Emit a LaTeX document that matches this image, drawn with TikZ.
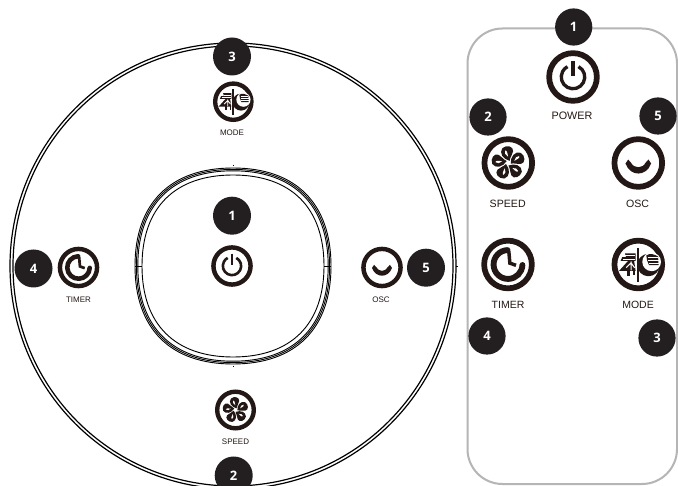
\documentclass[tikz,border=0pt]{standalone}
\usepackage{fontspec}
\setmainfont{Liberation Sans}
\newfontfamily\badgefont{Open Sans}
\definecolor{ink}{HTML}{231815}
\definecolor{badgeink}{HTML}{231F20}
\definecolor{shellgray}{HTML}{B5B5B5}
\tikzset{
  badge/.style={circle,fill=badgeink,draw=none,minimum size=2*#1 pt,inner sep=0pt,text=white,font=\badgefont\bfseries\fontsize{13}{13}\selectfont},
  lab/.style={text=ink,inner sep=0pt,font=\fontsize{#1}{#1}\selectfont},
  rim/.style={draw=black,line width=0.9pt},
}
% ring common to all icons; #1 x, #2 y, #3 outer radius
\newcommand{\iconring}[3]{\draw[ink,line width=#3*0.215pt] (#1,#2) circle[radius=#3*0.893pt];}
\newcommand{\powericon}[3]{\iconring{#1}{#2}{#3}
  \begin{scope}[shift={(#1,#2)},x=#3pt,y=#3pt,draw=ink,line width=#3*0.125pt]
    \draw (62:0.44) arc[start angle=62,end angle=-242,radius=0.44];
    \draw (0,0.6) -- (0,0.04);
  \end{scope}}
\newcommand{\fanicon}[3]{\iconring{#1}{#2}{#3}
  \begin{scope}[shift={(#1,#2)},x=#3pt,y=#3pt]
    \foreach \a in {0,72,...,288}{
      \begin{scope}[rotate=\a]
        \fill[ink] (0.05,0.08) .. controls (-0.20,0.14) and (-0.36,0.38) .. (-0.22,0.56)
           .. controls (-0.06,0.70) and (0.20,0.62) .. (0.18,0.44)
           .. controls (0.16,0.30) and (0.07,0.24) .. (0.05,0.08) -- cycle;
        \fill[white] (-0.01,0.24) .. controls (-0.10,0.30) and (-0.17,0.38) .. (-0.12,0.46)
           .. controls (-0.06,0.50) and (-0.03,0.38) .. (-0.01,0.24) -- cycle;
      \end{scope}}
  \end{scope}}
\newcommand{\timericon}[3]{\iconring{#1}{#2}{#3}
  \begin{scope}[shift={(#1,#2)},x=#3pt,y=#3pt,draw=ink]
    \draw[line width=#3*0.22pt,line cap=round] (92:0.54) arc[start angle=92,end angle=358,radius=0.54];
    \draw[line width=#3*0.13pt] (0.03,0.5) -- (0.07,0.05) -- (0.30,-0.03);
  \end{scope}}
\newcommand{\oscicon}[3]{\iconring{#1}{#2}{#3}
  \begin{scope}[shift={(#1,#2)},x=#3pt,y=#3pt]
    \fill[ink] (-0.48,-0.02) -- (-0.38,0.13) -- (-0.28,0.02) .. controls (-0.16,-0.22) and (0.16,-0.22) .. (0.28,0.02)
       -- (0.38,0.13) -- (0.48,-0.02) .. controls (0.30,-0.52) and (-0.30,-0.52) .. (-0.48,-0.02) -- cycle;
  \end{scope}}
\newcommand{\modeicon}[3]{\iconring{#1}{#2}{#3}
  \begin{scope}[shift={(#1,#2)},x=#3pt,y=#3pt]
    \fill[ink] (-0.05,0.62) rectangle (0.01,-0.66);
    \fill[ink] (-0.50,0.42) -- (-0.10,0.42) -- (-0.10,0.14) -- (-0.66,0.14) -- (-0.60,0.28) -- (-0.46,0.28) -- cycle;
    \fill[ink] (-0.36,0.16) -- (-0.72,-0.24) -- (-0.10,-0.24) -- (-0.16,0.16) -- cycle;
    \fill[ink] (-0.42,-0.20) rectangle (-0.30,-0.42);
    \fill[ink] (-0.18,-0.20) rectangle (-0.12,-0.40);
    \draw[white,line width=#3*0.035pt] (-0.48,0.33) -- (-0.13,0.33) (-0.58,0.20) -- (-0.13,0.20);
    \draw[white,line width=#3*0.04pt] (-0.27,0.12) -- (-0.27,-0.22) (-0.45,-0.12) -- (-0.27,0.06) -- (-0.14,-0.12);
    \fill[ink] (0.38,-0.02) circle[radius=0.42];
    \fill[white] (0.50,0.10) circle[radius=0.35];
    \fill[ink] (0.30,0.34) .. controls (0.44,0.44) and (0.60,0.38) .. (0.74,0.30)
       -- (0.76,-0.02) -- (0.40,-0.02) .. controls (0.34,0.10) and (0.30,0.22) .. (0.30,0.34) -- cycle;
    \draw[white,line width=#3*0.04pt] (0.36,0.26) -- (0.74,0.26) (0.36,0.15) -- (0.76,0.15) (0.40,0.05) -- (0.76,0.05);
  \end{scope}}
\newcommand{\squirclepath}[1]{
  \draw[rim] (233,266-#1) .. controls (233+0.64*#1,266-#1) and (233+#1,266-0.64*#1) .. (233+#1,266)
    .. controls (233+#1,266+0.64*#1) and (233+0.64*#1,266+#1) .. (233,266+#1)
    .. controls (233-0.64*#1,266+#1) and (233-#1,266+0.64*#1) .. (233-#1,266)
    .. controls (233-#1,266-0.64*#1) and (233-0.64*#1,266-#1) .. (233,266-#1) -- cycle;}
\begin{document}
\begin{tikzpicture}[x=1pt,y=-1pt]
\useasboundingbox (0,0) rectangle (678,486);
\clip (0,0) rectangle (678,486);
\fill[white] (0,0) rectangle (678,486);
% panel
\draw[rim,line width=1.2pt] (233,266) circle[radius=223pt];
\draw[rim,line width=1.2pt] (233,266) circle[radius=220pt];
\draw[rim,line width=0.7pt] (455.5,266) -- (457.5,266);
\foreach \h in {98,96.6,95.2}{\squirclepath{\h}}
\squirclepath{91}
\draw[rim,line width=0.5pt] (135,266) -- (142,266) (324,266) -- (331,266);
\draw[rim,line width=0.5pt] (233,165) -- (233,166) (233,366) -- (233,367);
% remote outline
\draw[shellgray,line width=2pt,rounded corners=35pt] (467.5,28.5) rectangle (677,484);
% panel icons
\powericon{232}{266}{20.8}
\modeicon{233.3}{101.7}{20.3}
\fanicon{235.5}{410}{20.5}
\timericon{78.5}{267.5}{20.8}
\oscicon{382}{267.5}{20.8}
% remote icons
\powericon{573}{77}{26.7}
\fanicon{508.3}{163}{26.7}
\oscicon{638.3}{163}{26.7}
\timericon{508}{264.5}{26.7}
\modeicon{638.3}{264.5}{26.7}
% labels
\node[lab=8] (lm) at (232,132.7) {MODE};
\node[lab=8] (ls) at (235.5,442) {SPEED};
\node[lab=8] (lt) at (78.5,299.3) {TIMER};
\node[lab=8] (lo) at (381,300) {OSC};
\node[lab=10.8] (rp) at (572,116) {POWER};
\node[lab=10.6] (rs) at (507.7,204) {SPEED};
\node[lab=10.6] (ro) at (637.5,204) {OSC};
\node[lab=10.5] (rt) at (508,305) {TIMER};
\node[lab=10.5] (rm) at (638,305) {MODE};
% badges
\node[badge=19] (a1) at (232,215.7) {1};
\node[badge=19] (a2) at (233.7,475.5) {2};
\node[badge=19] (a3) at (232,56.5) {3};
\node[badge=19] (a4) at (33.5,268.5) {4};
\node[badge=19] (a5) at (426,267.7) {5};
\node[badge=18.6] (b1) at (573.7,27) {1};
\node[badge=18.6] (b2) at (488,117) {2};
\node[badge=18.6] (b3) at (657,338) {3};
\node[badge=18.6] (b4) at (487,336) {4};
\node[badge=18.6] (b5) at (658,116) {5};
\end{tikzpicture}
\end{document}
